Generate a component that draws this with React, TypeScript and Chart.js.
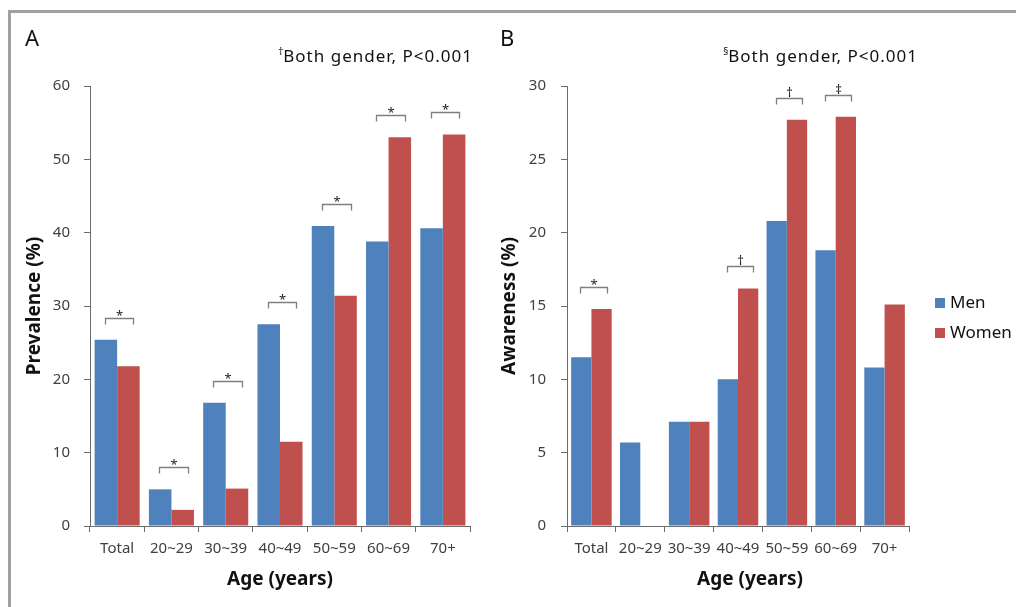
import React, { useEffect, useRef } from "react";
import { Chart, registerables } from "chart.js";

Chart.register(...registerables);

const categories = ["Total", "20~29", "30~39", "40~49", "50~59", "60~69", "70+"];
const prevalenceMen = [25.4, 5.0, 16.8, 27.5, 40.9, 38.8, 40.6];
const prevalenceWomen = [21.8, 2.2, 5.1, 11.5, 31.4, 53.0, 53.4];
const prevalenceSig = ["*", "*", "*", "*", "*", "*", "*"];
const prevalenceTicks = [0, 10, 20, 30, 40, 50, 60];
const awarenessMen = [11.5, 5.7, 7.1, 10.0, 20.8, 18.8, 10.8];
const awarenessWomen = [14.8, 0, 7.1, 16.2, 27.7, 27.9, 15.1];
const awarenessSig = ["*", "", "", "†", "†", "‡", ""];
const awarenessTicks = [0, 5, 10, 15, 20, 25, 30];
const seriesLabels = ["Men", "Women"];

const FONT = "'Noto Sans', 'Open Sans', sans-serif";
const BLUE = "#4F81BD";
const RED = "#C0504D";
const AXIS = "#6b6b6b";
const TEXT = "#404040";

const decorPlugin = {
  id: "decor",
  afterDatasetsDraw(chart: any, _args: any, opts: any) {
    const ctx = chart.ctx;
    const y = chart.scales.y;
    const m0 = chart.getDatasetMeta(0);
    const m1 = chart.getDatasetMeta(1);
    ctx.save();
    // significance brackets
    (opts.marks || []).forEach((mk: string, i: number) => {
      if (!mk) return;
      const v = Math.max(chart.data.datasets[0].data[i] || 0, chart.data.datasets[1].data[i] || 0);
      const ly = Math.round(y.getPixelForValue(v) - 22) + 0.5;
      const x1 = Math.round(m0.data[i].x - 1) + 0.5;
      const x2 = Math.round(m1.data[i].x + 5) + 0.5;
      ctx.strokeStyle = "#7f7f7f";
      ctx.lineWidth = 1.3;
      ctx.beginPath();
      ctx.moveTo(x1, ly + 6);
      ctx.lineTo(x1, ly);
      ctx.lineTo(x2, ly);
      ctx.lineTo(x2, ly + 6);
      ctx.stroke();
      ctx.fillStyle = "#222";
      ctx.font = `13px ${FONT}`;
      ctx.textAlign = "center";
      ctx.textBaseline = "alphabetic";
      ctx.fillText(mk, (x1 + x2) / 2, mk === "*" ? ly + 1 : ly - 2);
    });
    ctx.restore();
  },
  afterDraw(chart: any, _args: any, opts: any) {
    const ctx = chart.ctx;
    ctx.save();
    // panel letter
    ctx.fillStyle = "#111";
    ctx.font = `22px ${FONT}`;
    ctx.textAlign = "left";
    ctx.textBaseline = "alphabetic";
    ctx.fillText(opts.letter, opts.letterX, 46);
    // note text, right aligned
    ctx.font = `17px ${FONT}`;
    (ctx as any).letterSpacing = "1px";
    ctx.textAlign = "right";
    ctx.fillText(opts.note, opts.noteRight, 62);
    const w = ctx.measureText(opts.note).width;
    (ctx as any).letterSpacing = "0px";
    ctx.font = `10px ${FONT}`;
    ctx.fillText(opts.symbol, opts.noteRight - w, 55);
    // custom x-title
    if (opts.xTitle) {
      ctx.font = `bold 19px ${FONT}`;
      ctx.textAlign = "center";
      ctx.textBaseline = "middle";
      ctx.fillStyle = "#111";
      ctx.fillText(opts.xTitle, opts.xTitleX, 580);
    }
    // legend
    if (opts.legend) {
      const ds = chart.data.datasets;
      ds.forEach((d: any, k: number) => {
        const ly = 303 + k * 30;
        ctx.fillStyle = d.backgroundColor;
        ctx.fillRect(opts.legendX, ly - 5, 10, 10);
        ctx.fillStyle = "#111";
        ctx.font = `17px ${FONT}`;
        ctx.textAlign = "left";
        ctx.textBaseline = "middle";
        ctx.fillText(d.label, opts.legendX + 15, ly);
      });
    }
    ctx.restore();
  },
};

function makeConfig(
  men: number[],
  women: number[],
  ticks: number[],
  yTitle: string,
  yAxisWidth: number,
  yTitlePad: number,
  yLabelPad: number,
  padRight: number,
  decor: any,
  showXTitle: boolean
): any {
  return {
    type: "bar",
    data: {
      labels: categories,
      datasets: [
        { label: seriesLabels[0], data: men, backgroundColor: BLUE, borderWidth: 0, categoryPercentage: 0.83, barPercentage: 1 },
        { label: seriesLabels[1], data: women, backgroundColor: RED, borderWidth: 0, categoryPercentage: 0.83, barPercentage: 1 },
      ],
    },
    options: {
      responsive: false,
      animation: false,
      events: [],
      layout: { padding: { left: 0, right: padRight, top: 86, bottom: 0 } },
      plugins: {
        legend: { display: false },
        tooltip: { enabled: false },
        decor,
      },
      scales: {
        x: {
          grid: { display: true, drawOnChartArea: false, tickLength: 6, color: AXIS, offset: true },
          border: { color: AXIS, width: 1 },
          ticks: { color: TEXT, font: { family: FONT, size: 15 }, padding: 8, maxRotation: 0, autoSkip: false },
          title: {
            display: showXTitle,
            text: "Age (years)",
            color: "#111",
            font: { family: FONT, size: 19, weight: "bold" },
            padding: { top: 0, bottom: 16 },
          },
          afterFit: (s: any) => {
            s.height = 81;
          },
        },
        y: {
          min: ticks[0],
          max: ticks[ticks.length - 1],
          afterBuildTicks: (s: any) => {
            s.ticks = ticks.map((v) => ({ value: v }));
          },
          grid: { display: true, drawOnChartArea: false, tickLength: 6, color: AXIS },
          border: { color: AXIS, width: 1 },
          ticks: { color: TEXT, font: { family: FONT, size: 15 }, padding: yLabelPad },
          title: {
            display: true,
            text: yTitle,
            color: "#111",
            font: { family: FONT, size: 19, weight: "bold" },
            padding: { top: yTitlePad, bottom: 0 },
          },
          afterFit: (s: any) => {
            s.width = yAxisWidth;
          },
        },
      },
    },
    plugins: [decorPlugin],
  };
}

export default function App() {
  const refA = useRef<HTMLCanvasElement>(null);
  const refB = useRef<HTMLCanvasElement>(null);

  useEffect(() => {
    const a = new Chart(
      refA.current as HTMLCanvasElement,
      makeConfig(prevalenceMen, prevalenceWomen, prevalenceTicks, "Prevalence (%)", 90, 23, 14, 20,
        { marks: prevalenceSig, letter: "A", letterX: 25, note: "Both gender, P<0.001", symbol: "†", noteRight: 473 },
        true)
    );
    const b = new Chart(
      refB.current as HTMLCanvasElement,
      makeConfig(awarenessMen, awarenessWomen, awarenessTicks, "Awareness (%)", 77, 8, 15, 107,
        {
          marks: awarenessSig, letter: "B", letterX: 10, note: "Both gender, P<0.001", symbol: "§", noteRight: 428,
          xTitle: "Age (years)", xTitleX: 260, legend: true, legendX: 445,
        },
        false)
    );
    return () => {
      a.destroy();
      b.destroy();
    };
  }, []);

  return (
    <div style={{ position: "absolute", left: 0, top: 0, width: 1016, height: 607, background: "#fff", overflow: "hidden" }}>
      <div style={{ position: "absolute", left: 8, top: 10, width: 1016, height: 610, borderTop: "3px solid #a0a0a0", borderLeft: "3px solid #a0a0a0" }} />
      <canvas ref={refA} width={490} height={607} style={{ position: "absolute", left: 0, top: 0, width: 490, height: 607 }} />
      <canvas ref={refB} width={526} height={607} style={{ position: "absolute", left: 490, top: 0, width: 526, height: 607 }} />
    </div>
  );
}
